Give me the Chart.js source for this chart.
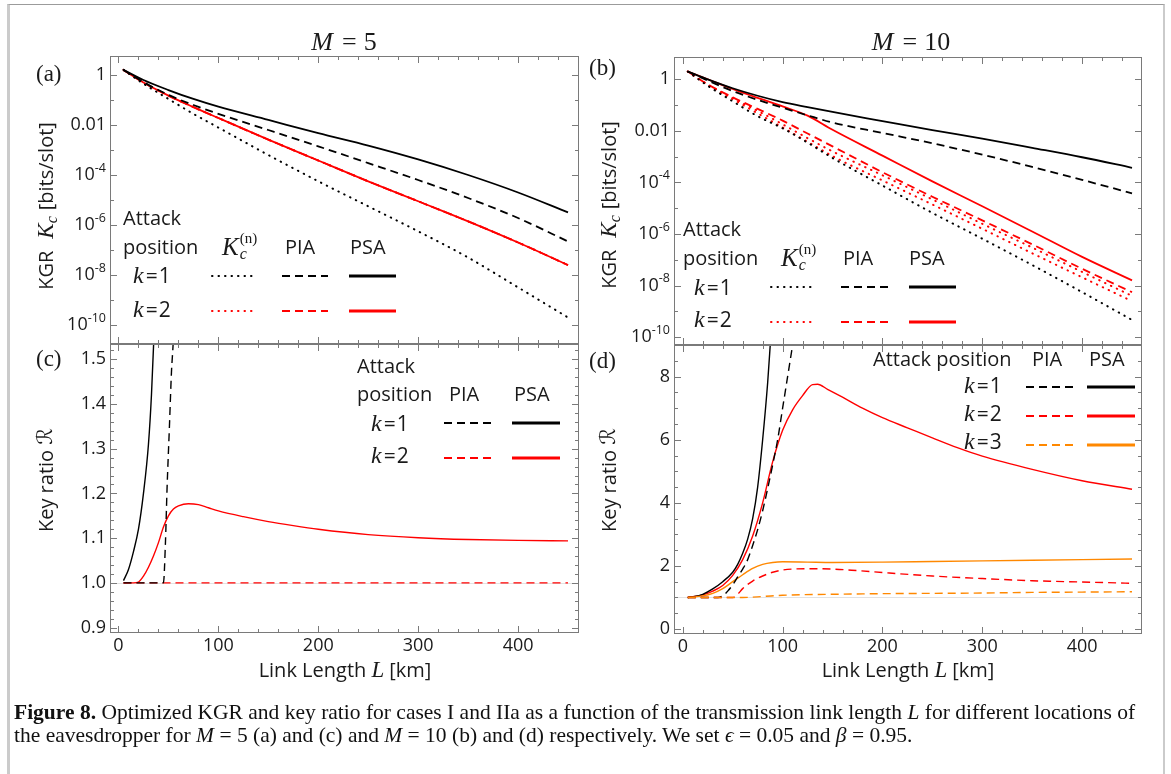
<!DOCTYPE html>
<html>
<head>
<meta charset="utf-8">
<title>Figure 8 – KGR and key ratio</title>
<script src="https://cdn.jsdelivr.net/npm/chart.js@4.4.4/dist/chart.umd.min.js"></script>
<style>
  html, body { margin: 0; padding: 0; background: #fff; }
  #page { position: relative; width: 1171px; height: 774px; overflow: hidden; background: #fff; }
  #page canvas { position: absolute; left: 0; top: 0; }
  #border { position: absolute; left: 7px; top: 4px; width: 1158px; height: 800px; box-sizing: border-box;
            border-top: 1px solid #9b9b9b; border-left: 3px solid #cbcbcb; border-right: 2px solid #cbcbcb; }
  #caption { position: absolute; left: 14px; top: 701px; font-family: 'Liberation Serif', 'DejaVu Serif', serif;
             font-size: 18px; line-height: 23px; color: #111; white-space: nowrap; }
</style>
</head>
<body>
<div id="page">
  <div id="border"></div>
  <canvas id="chart-a" width="1171" height="774"></canvas>
  <canvas id="chart-b" width="1171" height="774"></canvas>
  <canvas id="chart-c" width="1171" height="774"></canvas>
  <canvas id="chart-d" width="1171" height="774"></canvas>
  <div id="caption"><span id="cap1"><b>Figure 8.</b> Optimized KGR and key ratio for cases I and IIa as a function of the transmission link length <i>L</i> for different locations of</span><br><span id="cap2">the eavesdropper for <i>M</i> = 5 (a) and (c) and <i>M</i> = 10 (b) and (d) respectively. We set <i>ϵ</i> = 0.05 and <i>β</i> = 0.95.</span></div>
</div>
<script>
// ─── Axis ticks ──────────────────────────────────────────────────────────────

const X_TICKS = [0, 100, 200, 300, 400];
const X_TICK_LABELS = ['0', '100', '200', '300', '400'];
const X_MINOR = [20, 40, 60, 80, 120, 140, 160, 180, 220, 240, 260, 280, 320, 340, 360, 380, 420, 440];

const LOG_TICKS = [1, 1e-2, 1e-4, 1e-6, 1e-8, 1e-10];
const LOG_TICK_LABELS = ['1', '0.01', '10|-4', '10|-6', '10|-8', '10|-10'];
const LOG_MINOR = [1e-1, 1e-3, 1e-5, 1e-7, 1e-9];

const C_TICKS = [0.9, 1.0, 1.1, 1.2, 1.3, 1.4, 1.5];
const C_TICK_LABELS = ['0.9', '1.0', '1.1', '1.2', '1.3', '1.4', '1.5'];
const C_MINOR = [0.92, 0.94, 0.96, 0.98, 1.02, 1.04, 1.06, 1.08, 1.12, 1.14, 1.16, 1.18,
                 1.22, 1.24, 1.26, 1.28, 1.32, 1.34, 1.36, 1.38, 1.42, 1.44, 1.46, 1.48, 1.52];

const D_TICKS = [0, 2, 4, 6, 8];
const D_TICK_LABELS = ['0', '2', '4', '6', '8'];
const D_MINOR = [0.5, 1, 1.5, 2.5, 3, 3.5, 4.5, 5, 5.5, 6.5, 7, 7.5, 8.5];

// ─── Panel (a): M = 5, KGR [bits/slot] vs link length L [km] ─────────────────

const L_A = [5, 25, 50, 75, 100, 150, 200, 250, 300, 350, 400, 450];
const A_KN_K1  = [1.6, 0.45, 0.11, 0.028, 7.9e-3, 6.3e-4, 5.6e-5, 5.6e-6, 5.6e-7, 5e-8, 3.2e-9, 2e-10];
const A_PIA_K1 = [1.6, 0.52, 0.16, 0.063, 0.028, 6.3e-3, 1.4e-3, 3e-4, 6.3e-5, 1.2e-5, 1.9e-6, 2.2e-7];
const A_PSA_K1 = [1.6, 0.63, 0.25, 0.11, 0.054, 0.016, 4.7e-3, 1.5e-3, 4.2e-4, 1e-4, 2e-5, 3.2e-6];
const A_KN_K2  = [1.6, 0.5, 0.15, 0.052, 0.019, 2.6e-3, 3.8e-4, 5.6e-5, 8.9e-6, 1.4e-6, 2e-7, 2.5e-8];
const A_PIA_K2 = [1.6, 0.5, 0.15, 0.052, 0.019, 2.6e-3, 3.8e-4, 5.6e-5, 8.9e-6, 1.4e-6, 2e-7, 2.5e-8];
const A_PSA_K2 = [1.6, 0.5, 0.15, 0.052, 0.019, 2.6e-3, 3.8e-4, 5.6e-5, 8.9e-6, 1.4e-6, 2e-7, 2.5e-8];

// ─── Panel (b): M = 10, KGR ─────────────────────────────────────────────────

const L_B = [5, 25, 50, 75, 100, 125, 150, 200, 250, 300, 350, 400, 450];
const B_KN_K1  = [2.0, 0.56, 0.14, 0.037, 0.0126, 3.5e-3, 8.9e-4, 7.6e-5, 6.6e-6, 6.6e-7, 6.3e-8, 5.6e-9, 4.7e-10];
const B_PIA_K1 = [2.0, 0.89, 0.35, 0.16, 0.079, 0.04, 0.021, 8.3e-3, 3.3e-3, 1.2e-3, 4e-4, 1.26e-4, 3.8e-5];
const B_PSA_K1 = [2.0, 1.0, 0.45, 0.23, 0.13, 0.083, 0.054, 0.024, 0.0107, 5e-3, 2.2e-3, 9.5e-4, 3.7e-4];
const B_KN_K2  = [2.0, 0.63, 0.19, 0.06, 0.018, 5.2e-3, 1.6e-3, 1.9e-4, 2.2e-5, 2.5e-6, 3e-7, 3.4e-8, 4e-9];
const B_KN_K2B = [2.0, 0.6, 0.17, 0.048, 0.0135, 3.8e-3, 1.05e-3, 1.2e-4, 1.4e-5, 1.6e-6, 1.8e-7, 2.1e-8, 2.5e-9];
const B_PIA_K2 = [2.0, 0.63, 0.2, 0.071, 0.025, 7.9e-3, 2.5e-3, 2.5e-4, 2.8e-5, 3.4e-6, 4e-7, 4.5e-8, 5.6e-9];
const B_PSA_K2 = [2.0, 1.0, 0.42, 0.19, 0.089, 0.039, 0.011, 1.1e-3, 1.1e-4, 1.2e-5, 1.26e-6, 1.3e-7, 1.6e-8];

// ─── Panel (c): M = 5, key ratio ────────────────────────────────────────────

const C_PSA_K1_L = [5, 10, 15, 20, 25, 30, 33, 36];
const C_PSA_K1   = [1.005, 1.03, 1.07, 1.12, 1.2, 1.31, 1.42, 1.58];
const C_PIA_K1_L = [5, 45, 47, 48.6, 51, 53, 54.6, 56];
const C_PIA_K1   = [1.0, 1.0, 1.09, 1.21, 1.35, 1.47, 1.53, 1.6];
const C_PSA_K2_L = [5, 10, 15, 20, 25, 30, 35, 40, 45, 50, 55, 60, 70, 80, 90, 100, 125, 150, 175, 200, 250, 300, 350, 400, 450];
const C_PSA_K2   = [1.0, 1.0, 1.0, 1.002, 1.015, 1.035, 1.06, 1.09, 1.125, 1.15, 1.165, 1.172, 1.177, 1.175,
                    1.168, 1.161, 1.148, 1.137, 1.128, 1.12, 1.108, 1.101, 1.097, 1.095, 1.094];
const C_PIA_K2_L = [5, 100, 200, 300, 400, 450];
const C_PIA_K2   = [1.0, 1.0, 1.0, 1.0, 1.0, 1.0];

// ─── Panel (d): M = 10, key ratio ───────────────────────────────────────────

const D_PSA_K1_L = [5, 10, 20, 30, 40, 50, 55, 60, 65, 70, 75, 80, 85, 88];
const D_PSA_K1   = [1.0, 1.02, 1.1, 1.27, 1.5, 1.8, 2.05, 2.4, 2.85, 3.5, 4.5, 6.0, 7.8, 9.2];
const D_PIA_K1_L = [5, 35, 40, 45, 50, 55, 60, 65, 70, 75, 80, 85, 90, 95, 100, 105, 110, 112];
const D_PIA_K1   = [1.0, 1.0, 1.05, 1.2, 1.4, 1.65, 1.9, 2.2, 2.65, 3.15, 3.75, 4.45, 5.2, 6.0, 7.0, 8.0, 9.0, 9.4];
const D_PSA_K2_L = [5, 20, 30, 40, 50, 60, 70, 80, 90, 100, 110, 120, 130, 135, 145, 160, 180, 200, 225, 250, 275, 300, 350, 400, 450];
const D_PSA_K2   = [1.0, 1.08, 1.2, 1.38, 1.7, 2.2, 2.95, 4.0, 5.3, 6.3, 6.95, 7.4, 7.75, 7.76, 7.6, 7.35,
                    7.0, 6.7, 6.38, 6.06, 5.75, 5.48, 5.06, 4.7, 4.43];
const D_PIA_K2_L = [5, 50, 55, 60, 70, 80, 90, 100, 125, 150, 175, 200, 250, 300, 350, 400, 450];
const D_PIA_K2   = [1.0, 1.0, 1.1, 1.28, 1.52, 1.68, 1.8, 1.87, 1.91, 1.9, 1.85, 1.79, 1.68, 1.6, 1.53, 1.49, 1.45];
const D_PSA_K3_L = [5, 20, 30, 40, 50, 60, 70, 80, 90, 100, 125, 150, 200, 250, 300, 350, 400, 450];
const D_PSA_K3   = [1.0, 1.05, 1.13, 1.28, 1.5, 1.72, 1.92, 2.05, 2.11, 2.13, 2.12, 2.11, 2.12, 2.14, 2.16, 2.18, 2.2, 2.22];
const D_PIA_K3_L = [5, 60, 80, 100, 150, 200, 250, 300, 350, 400, 450];
const D_PIA_K3   = [1.0, 1.0, 1.03, 1.07, 1.1, 1.12, 1.13, 1.14, 1.16, 1.17, 1.18];

// ─── Styles ──────────────────────────────────────────────────────────────────

const W = 1171, H = 774;
const SANS = "'Open Sans', 'DejaVu Sans', sans-serif";
const SERIF = "'Liberation Serif', 'DejaVu Serif', serif";
const BLACK = '#000000', RED = '#ff0000', ORANGE = '#ff8800';
const FRAME = '#7a7a7a', TEXT = '#1a1a1a';
const DASH = { solid: [], dash: [8, 5], dot: [0.5, 6] };

const F_TICK = `18px ${SANS}`;
const F_EXP = `12.5px ${SANS}`;
const F_LAB = `20px ${SANS}`;
const F_MATH = `italic 23px ${SERIF}`;
const F_SUB = `italic 16px ${SERIF}`;
const F_SUP = `15px ${SERIF}`;

// ─── Helpers ─────────────────────────────────────────────────────────────────

function pts(xs, ys) { return xs.map((x, i) => ({ x, y: ys[i] })); }

function series(xs, ys, color, style, width) {
    return {
        data: pts(xs, ys),
        borderColor: color,
        borderWidth: width,
        borderDash: DASH[style],
        borderCapStyle: style === 'dot' ? 'round' : 'butt',
        pointRadius: 0,
        fill: false,
        cubicInterpolationMode: 'monotone',
        clip: 0
    };
}

// parts: [text, font, dy, extraGap, stacked]
function drawParts(ctx, parts, x, y, align) {
    let w = 0;
    parts.forEach(p => { ctx.font = p[1]; p.w = ctx.measureText(p[0]).width; if (!p[4]) w += p.w + (p[3] || 0); });
    let cx = align === 'center' ? x - w / 2 : align === 'right' ? x - w : x;
    ctx.textAlign = 'left';
    ctx.textBaseline = 'middle';
    parts.forEach(p => {
        ctx.font = p[1];
        ctx.fillText(p[0], cx, y + (p[2] || 0));
        if (!p[4]) cx += p.w + (p[3] || 0);
    });
}

const txt = (s, f) => [[s, f || F_LAB]];
const kEq = n => [['k', `italic 24px ${SERIF}`, 0, 2], ['=', `21px ${SANS}`, 0, 1], [n, `21px ${SANS}`]];
const KCN = [['K', `italic 25px ${SERIF}`, 0, 1], ['c', F_SUB, 7, 0, true], ['(n)', F_SUP, -9]];
const KGR_TITLE = [['KGR', F_LAB, 0, 12], ['K', F_MATH, 0, 0], ['c', F_SUB, 6, 6], ['[bits/slot]', F_LAB]];
const KR_TITLE = [['Key ratio ', F_LAB], ['\u211B', `italic 21px 'DejaVu Serif', 'DejaVu Sans', serif`]];
const LL_TITLE = [['Link Length ', F_LAB], ['L', F_MATH, 0, 5], ['[km]', F_LAB]];
const mTitle = n => [['M', `italic 26px ${SERIF}`, 0, 9], ['=', `26px ${SERIF}`, 0, 7], [n, `26px ${SERIF}`]];

function tickParts(label) {
    const s = label.split('|');
    if (s.length === 1) return [[s[0], F_TICK]];
    return [[s[0], F_TICK, 0, 0], [s[1], F_EXP, -7]];
}

// ─── Mathematica-style frame plugin ─────────────────────────────────────────

const mmaFrame = {
    id: 'mmaFrame',
    beforeDatasetsDraw(chart, args, o) {
        if (o.refY === undefined) return;
        const { ctx, chartArea: a, scales: { y } } = chart;
        const py = Math.round(y.getPixelForValue(o.refY)) + 0.5;
        ctx.save();
        ctx.strokeStyle = '#e2e2e2';
        ctx.lineWidth = 1;
        ctx.beginPath(); ctx.moveTo(a.left, py); ctx.lineTo(a.right, py); ctx.stroke();
        ctx.restore();
    },
    afterDraw(chart, args, o) {
        const { ctx, chartArea: a, scales: { x, y } } = chart;
        ctx.save();
        ctx.strokeStyle = FRAME;
        ctx.lineWidth = 1;
        ctx.strokeRect(a.left + 0.5, a.top + 0.5, a.right - a.left - 1, a.bottom - a.top - 1);

        const seg = (x1, y1, x2, y2) => { ctx.beginPath(); ctx.moveTo(x1, y1); ctx.lineTo(x2, y2); ctx.stroke(); };
        const xt = (v, len) => {
            const px = Math.round(x.getPixelForValue(v)) + 0.5;
            if (px < a.left || px > a.right) return;
            seg(px, a.bottom, px, a.bottom - len);
            seg(px, a.top, px, a.top + len);
        };
        const yt = (v, len) => {
            const py = Math.round(y.getPixelForValue(v)) + 0.5;
            if (py < a.top || py > a.bottom) return;
            seg(a.left, py, a.left + len, py);
            seg(a.right, py, a.right - len, py);
        };
        X_TICKS.forEach(v => xt(v, 7));
        X_MINOR.forEach(v => xt(v, 4));
        o.yMajor.forEach(v => yt(v, 7));
        o.yMinor.forEach(v => yt(v, 4));

        ctx.fillStyle = TEXT;
        o.yMajor.forEach((v, i) => drawParts(ctx, tickParts(o.yLabels[i]), a.left - 4, y.getPixelForValue(v), 'right'));
        if (o.xLabels) X_TICKS.forEach((v, i) => drawParts(ctx, [[X_TICK_LABELS[i], F_TICK]], x.getPixelForValue(v), a.bottom + 13, 'center'));

        // legend sample lines
        (o.lines || []).forEach(l => {
            ctx.save();
            ctx.strokeStyle = l[3];
            ctx.lineWidth = l[5];
            ctx.setLineDash(DASH[l[4]]);
            ctx.lineCap = l[4] === 'dot' ? 'round' : 'butt';
            seg(l[0], l[2], l[1], l[2]);
            ctx.restore();
        });

        // texts
        (o.texts || []).forEach(t => {
            if (t.rot) {
                ctx.save();
                ctx.translate(t.x, t.y);
                ctx.rotate(-Math.PI / 2);
                drawParts(ctx, t.p, 0, 0, 'center');
                ctx.restore();
            } else {
                drawParts(ctx, t.p, t.x, t.y, t.align || 'left');
            }
        });
        ctx.restore();
    }
};

function makePanel(id, area, xRange, yOpts, datasets, deco) {
    return new Chart(document.getElementById(id), {
        type: 'line',
        data: { datasets },
        options: {
            responsive: false,
            animation: false,
            events: [],
            devicePixelRatio: 1,
            layout: { padding: { left: area[0], top: area[1], right: W - area[2], bottom: H - area[3] } },
            scales: {
                x: { type: 'linear', display: false, bounds: 'data', min: xRange[0], max: xRange[1] },
                y: Object.assign({ display: false, bounds: 'data' }, yOpts)
            },
            plugins: { legend: { display: false }, tooltip: { enabled: false }, mmaFrame: deco }
        },
        plugins: [mmaFrame]
    });
}

// ─── Panels ──────────────────────────────────────────────────────────────────

const LW = 1.8, LW2 = 1.4;

makePanel('chart-a', [110, 56, 579, 344], [-8.5, 461],
    { type: 'logarithmic', min: 1.74e-11, max: 5.75 },
    [
        series(L_A, A_KN_K1, BLACK, 'dot', 2),
        series(L_A, A_PIA_K1, BLACK, 'dash', LW),
        series(L_A, A_PSA_K1, BLACK, 'solid', LW),
        series(L_A, A_KN_K2, RED, 'dot', 2),
        series(L_A, A_PIA_K2, RED, 'dash', LW),
        series(L_A, A_PSA_K2, RED, 'solid', LW)
    ],
    {
        yMajor: LOG_TICKS, yMinor: LOG_MINOR, yLabels: LOG_TICK_LABELS, xLabels: false,
        lines: [
            [212, 255, 276, BLACK, 'dot', 2], [282, 328, 276, BLACK, 'dash', 2], [349, 396, 276, BLACK, 'solid', 2.8],
            [212, 255, 311, RED, 'dot', 2], [282, 328, 311, RED, 'dash', 2], [349, 396, 311, RED, 'solid', 2.8]
        ],
        texts: [
            { p: mTitle('5'), x: 344, y: 43, align: 'center' },
            { p: txt('(a)', `23px ${SERIF}`), x: 36, y: 75 },
            { p: KGR_TITLE, x: 47, y: 206, rot: true },
            { p: txt('Attack'), x: 123, y: 219 },
            { p: txt('position'), x: 123, y: 248 },
            { p: KCN, x: 222, y: 248 },
            { p: txt('PIA'), x: 285, y: 248 },
            { p: txt('PSA'), x: 350, y: 248 },
            { p: kEq('1'), x: 133, y: 277 },
            { p: kEq('2'), x: 133, y: 311 }
        ]
    });

makePanel('chart-b', [674, 57, 1142, 345], [-8.8, 460],
    { type: 'logarithmic', min: 5e-11, max: 7.31 },
    [
        series(L_B, B_KN_K1, BLACK, 'dot', 2),
        series(L_B, B_PIA_K1, BLACK, 'dash', LW),
        series(L_B, B_PSA_K1, BLACK, 'solid', LW),
        series(L_B, B_KN_K2B, RED, 'dot', 2),
        series(L_B, B_KN_K2, RED, 'dot', 2),
        series(L_B, B_PIA_K2, RED, 'dash', LW),
        series(L_B, B_PSA_K2, RED, 'solid', LW)
    ],
    {
        yMajor: LOG_TICKS, yMinor: LOG_MINOR, yLabels: LOG_TICK_LABELS, xLabels: false,
        lines: [
            [771, 816, 287, BLACK, 'dot', 2], [841, 889, 287, BLACK, 'dash', 2], [909, 956, 287, BLACK, 'solid', 2.8],
            [771, 816, 322, RED, 'dot', 2], [841, 889, 322, RED, 'dash', 2], [909, 956, 322, RED, 'solid', 2.8]
        ],
        texts: [
            { p: mTitle('10'), x: 911, y: 43, align: 'center' },
            { p: txt('(b)', `23px ${SERIF}`), x: 589, y: 69 },
            { p: KGR_TITLE, x: 610, y: 205, rot: true },
            { p: txt('Attack'), x: 683, y: 230 },
            { p: txt('position'), x: 683, y: 259 },
            { p: KCN, x: 781, y: 259 },
            { p: txt('PIA'), x: 843, y: 259 },
            { p: txt('PSA'), x: 909, y: 259 },
            { p: kEq('1'), x: 694, y: 289 },
            { p: kEq('2'), x: 694, y: 321 }
        ]
    });

makePanel('chart-c', [110, 344, 579, 633], [-8.5, 461],
    { type: 'linear', min: 0.888, max: 1.534 },
    [
        series(C_PIA_K1_L, C_PIA_K1, BLACK, 'dash', LW2),
        series(C_PSA_K1_L, C_PSA_K1, BLACK, 'solid', LW2),
        series(C_PIA_K2_L, C_PIA_K2, RED, 'dash', LW2),
        series(C_PSA_K2_L, C_PSA_K2, RED, 'solid', LW2)
    ],
    {
        yMajor: C_TICKS, yMinor: C_MINOR, yLabels: C_TICK_LABELS, xLabels: true, refY: 1,
        lines: [
            [444, 492, 423, BLACK, 'dash', 1.8], [512, 560, 423, BLACK, 'solid', 2.8],
            [444, 492, 458, RED, 'dash', 1.8], [512, 560, 458, RED, 'solid', 2.8]
        ],
        texts: [
            { p: txt('(c)', `23px ${SERIF}`), x: 36, y: 360 },
            { p: KR_TITLE, x: 47, y: 480, rot: true },
            { p: LL_TITLE, x: 345, y: 671, align: 'center' },
            { p: txt('Attack'), x: 357, y: 367 },
            { p: txt('position'), x: 357, y: 395 },
            { p: txt('PIA'), x: 449, y: 395 },
            { p: txt('PSA'), x: 514, y: 395 },
            { p: kEq('1'), x: 371, y: 425 },
            { p: kEq('2'), x: 371, y: 457 }
        ]
    });

makePanel('chart-d', [674, 345, 1142, 634], [-8.8, 460],
    { type: 'linear', min: -0.159, max: 9.005 },
    [
        series(D_PIA_K3_L, D_PIA_K3, ORANGE, 'dash', LW2),
        series(D_PIA_K2_L, D_PIA_K2, RED, 'dash', LW2),
        series(D_PIA_K1_L, D_PIA_K1, BLACK, 'dash', LW2),
        series(D_PSA_K3_L, D_PSA_K3, ORANGE, 'solid', LW2),
        series(D_PSA_K1_L, D_PSA_K1, BLACK, 'solid', LW2),
        series(D_PSA_K2_L, D_PSA_K2, RED, 'solid', LW2)
    ],
    {
        yMajor: D_TICKS, yMinor: D_MINOR, yLabels: D_TICK_LABELS, xLabels: true, refY: 1,
        lines: [
            [1026, 1074, 387, BLACK, 'dash', 1.8], [1087, 1135, 387, BLACK, 'solid', 2.8],
            [1026, 1074, 416, RED, 'dash', 1.8], [1087, 1135, 416, RED, 'solid', 2.8],
            [1026, 1074, 445, ORANGE, 'dash', 1.8], [1087, 1135, 445, ORANGE, 'solid', 2.8]
        ],
        texts: [
            { p: txt('(d)', `23px ${SERIF}`), x: 589, y: 362 },
            { p: KR_TITLE, x: 610, y: 480, rot: true },
            { p: LL_TITLE, x: 908, y: 671, align: 'center' },
            { p: txt('Attack position'), x: 873, y: 360 },
            { p: txt('PIA'), x: 1032, y: 360 },
            { p: txt('PSA'), x: 1089, y: 360 },
            { p: kEq('1'), x: 964, y: 387 },
            { p: kEq('2'), x: 964, y: 415 },
            { p: kEq('3'), x: 964, y: 443 }
        ]
    });

// ─── Caption fitted to the line width of the reference ───────────────────────

(function fitCaption() {
    const cap = document.getElementById('caption');
    const w = document.getElementById('cap1').getBoundingClientRect().width;
    if (w > 0) cap.style.fontSize = (18 * 1121 / w).toFixed(2) + 'px';
})();
</script>
</body>
</html>
